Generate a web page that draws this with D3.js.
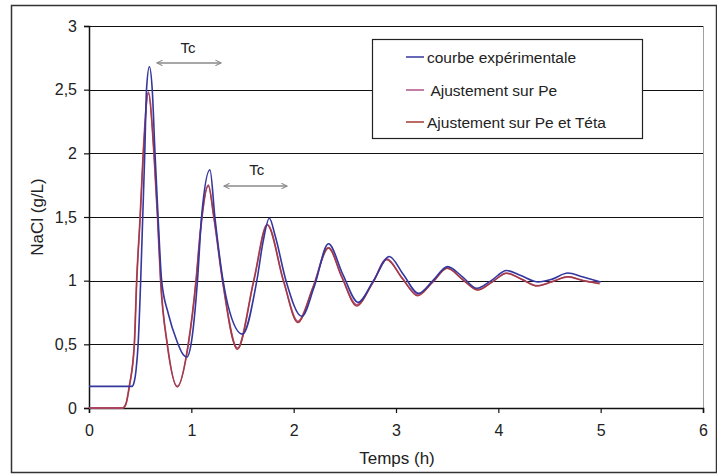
<!DOCTYPE html>
<html>
<head>
<meta charset="utf-8">
<script src="https://cdn.jsdelivr.net/npm/d3@7.9.0/dist/d3.min.js"></script>
<style>
  body { margin: 0; background: #fff; }
  svg { display: block; font-family: "Liberation Sans", Arial, sans-serif; }
</style>
</head>
<body>
<svg id="chart" width="717" height="474"></svg>
<script>
// --- data: [temps (h), NaCl (g/L)] ---
const experimental = [
  [0, 0.17], [0.42, 0.17], [0.44, 0.2], [0.46, 0.3], [0.48, 0.5], [0.505, 1.0],
  [0.525, 1.5], [0.545, 2.0], [0.562, 2.5], [0.59, 2.68], [0.618, 2.5], [0.645, 2.0],
  [0.675, 1.5], [0.71, 1.0], [0.775, 0.74], [0.857, 0.53], [0.92, 0.42], [0.955, 0.4],
  [1.003, 0.53], [1.06, 1.0], [1.10, 1.5], [1.182, 1.87], [1.23, 1.5], [1.31, 1.0],
  [1.36, 0.8], [1.50, 0.58], [1.64, 1.0], [1.70, 1.3], [1.762, 1.49], [1.82, 1.35],
  [1.925, 1.0], [2.08, 0.72], [2.2, 0.95], [2.34, 1.29], [2.48, 1.05], [2.63, 0.83],
  [2.78, 1.0], [2.935, 1.19], [3.07, 1.05], [3.22, 0.9], [3.36, 1.0], [3.505, 1.11],
  [3.65, 1.03], [3.79, 0.94], [3.93, 1.0], [4.08, 1.08], [4.22, 1.04], [4.39, 0.99],
  [4.52, 1.01], [4.68, 1.06], [4.82, 1.03], [5.0, 0.99]
];

const fitPe = [
  [0, 0], [0.33, 0], [0.36, 0.03], [0.394, 0.17], [0.443, 0.5], [0.466, 1.0],
  [0.50, 1.5], [0.53, 2.0], [0.58, 2.48], [0.635, 2.0], [0.67, 1.5], [0.70, 1.0],
  [0.765, 0.5], [0.863, 0.17], [0.97, 0.5], [1.046, 1.0], [1.09, 1.4], [1.166, 1.75],
  [1.22, 1.5], [1.305, 1.0], [1.45, 0.47], [1.61, 1.0], [1.742, 1.44], [1.90, 1.0],
  [2.04, 0.68], [2.19, 0.95], [2.34, 1.26], [2.47, 1.03], [2.615, 0.81], [2.77, 0.98],
  [2.91, 1.17], [3.06, 1.02], [3.21, 0.89], [3.36, 0.99], [3.50, 1.1], [3.65, 1.01],
  [3.80, 0.93], [3.94, 0.99], [4.08, 1.06], [4.23, 1.01], [4.38, 0.96], [4.52, 0.99],
  [4.68, 1.03], [4.83, 1.0], [4.99, 0.98]
];

const fitPeTeta = [
  [0, 0], [0.33, 0], [0.36, 0.03], [0.394, 0.17], [0.443, 0.5], [0.466, 1.0],
  [0.50, 1.5], [0.53, 2.0], [0.58, 2.47], [0.635, 2.0], [0.67, 1.5], [0.70, 1.0],
  [0.765, 0.5], [0.863, 0.165], [0.97, 0.5], [1.046, 1.0], [1.09, 1.4], [1.166, 1.745],
  [1.22, 1.5], [1.305, 1.0], [1.45, 0.46], [1.61, 1.0], [1.742, 1.437], [1.90, 1.0],
  [2.04, 0.67], [2.19, 0.95], [2.34, 1.255], [2.47, 1.03], [2.615, 0.80], [2.77, 0.98],
  [2.91, 1.165], [3.06, 1.02], [3.21, 0.88], [3.36, 0.99], [3.50, 1.097], [3.65, 1.01],
  [3.80, 0.925], [3.94, 0.99], [4.08, 1.058], [4.23, 1.01], [4.38, 0.958], [4.52, 0.99],
  [4.68, 1.031], [4.83, 1.0], [4.99, 0.974]
];

const xTicks = [0, 1, 2, 3, 4, 5, 6];
const yTicks = [0, 0.5, 1, 1.5, 2, 2.5, 3];

const seriesNames = ["courbe expérimentale", " Ajustement sur Pe", "Ajustement sur Pe et Téta"];
const seriesColors = ["#34379e", "#b0508c", "#a33a36"];

// Tc annotations: [t start, t end, level, label t, label level]
const tcArrows = [
  [0.664, 1.29, 2.71, 0.967, 2.83],
  [1.319, 1.935, 1.743, 1.64, 1.87]
];

// --- layout ---
const svg = d3.select("#chart");
const plot = { left: 89, right: 703, top: 26, bottom: 408 };

const x = d3.scaleLinear().domain([0, 6]).range([plot.left, plot.right]);
const y = d3.scaleLinear().domain([0, 3]).range([plot.bottom, plot.top]);

// outer frame
svg.append("rect")
  .attr("x", 11.5).attr("y", 5.5)
  .attr("width", 705).attr("height", 467)
  .attr("fill", "#fff")
  .attr("stroke", "#333").attr("stroke-width", 1.5);

// plot area right edge (gray)
svg.append("line")
  .attr("x1", plot.right + 0.5).attr("x2", plot.right + 0.5)
  .attr("y1", plot.top).attr("y2", plot.bottom)
  .attr("stroke", "#a0a0a0");

// gridlines
svg.append("g")
  .selectAll("line")
  .data(yTicks.filter(d => d > 0))
  .join("line")
  .attr("x1", plot.left).attr("x2", plot.right)
  .attr("y1", d => Math.round(y(d)) + 0.5)
  .attr("y2", d => Math.round(y(d)) + 0.5)
  .attr("stroke", "#111").attr("stroke-width", 1);

// axes
const yAxis = svg.append("g")
  .attr("transform", `translate(${plot.left},0)`)
  .call(d3.axisLeft(y).tickValues(yTicks).tickSize(5).tickPadding(7)
    .tickFormat(d => String(d).replace(".", ",")));
const xAxis = svg.append("g")
  .attr("transform", `translate(0,${plot.bottom})`)
  .call(d3.axisBottom(x).tickValues(xTicks).tickSize(5).tickPadding(12)
    .tickFormat(d => String(d)));

[xAxis, yAxis].forEach(a => {
  a.select(".domain").attr("stroke", "#111").attr("stroke-width", 1.5);
  a.selectAll(".tick line").attr("stroke", "#111").attr("stroke-width", 1.2);
  a.selectAll(".tick text").attr("fill", "#222")
    .style("font-size", "16px").style("font-family", "Liberation Sans, Arial, sans-serif");
});

// axis titles
svg.append("text")
  .attr("x", 397).attr("y", 464)
  .attr("text-anchor", "middle")
  .attr("fill", "#222")
  .style("font-size", "17px")
  .text("Temps (h)");

svg.append("text")
  .attr("transform", "translate(43,217) rotate(-90)")
  .attr("text-anchor", "middle")
  .attr("fill", "#222")
  .style("font-size", "17px")
  .text("NaCl (g/L)");

// curves
const line = d3.line()
  .x(d => x(d[0]))
  .y(d => y(d[1]))
  .curve(d3.curveMonotoneX);

const curves = [experimental, fitPe, fitPeTeta];
const widths = [1.6, 1.8, 1.2];
[1, 2, 0].forEach(i => {
  svg.append("path")
    .datum(curves[i])
    .attr("d", line)
    .attr("fill", "none")
    .attr("stroke", seriesColors[i])
    .attr("stroke-width", widths[i])
    .attr("stroke-linejoin", "round");
});

// Tc arrows
const defs = svg.append("defs");
defs.append("marker")
  .attr("id", "chev")
  .attr("viewBox", "0 0 10 10")
  .attr("refX", 9).attr("refY", 5)
  .attr("markerWidth", 7).attr("markerHeight", 7)
  .attr("markerUnits", "userSpaceOnUse")
  .attr("orient", "auto-start-reverse")
  .append("path")
  .attr("d", "M1,1 L9,5 L1,9")
  .attr("fill", "none")
  .attr("stroke", "#8a8a8a")
  .attr("stroke-width", 1.5);

const ann = svg.append("g");
ann.selectAll("line")
  .data(tcArrows)
  .join("line")
  .attr("x1", d => x(d[0])).attr("x2", d => x(d[1]))
  .attr("y1", d => y(d[2])).attr("y2", d => y(d[2]))
  .attr("stroke", "#8a8a8a").attr("stroke-width", 1.5)
  .attr("marker-start", "url(#chev)")
  .attr("marker-end", "url(#chev)");

ann.selectAll("text")
  .data(tcArrows)
  .join("text")
  .attr("x", d => x(d[3])).attr("y", d => y(d[4]))
  .attr("text-anchor", "middle")
  .attr("dominant-baseline", "central")
  .attr("fill", "#222")
  .style("font-size", "15px")
  .text("Tc");

// legend
const legend = svg.append("g");
legend.append("rect")
  .attr("x", 372.5).attr("y", 39.5)
  .attr("width", 270).attr("height", 99)
  .attr("fill", "#fff")
  .attr("stroke", "#222").attr("stroke-width", 1.2);

const legRows = [57, 90, 122];
seriesNames.forEach((name, i) => {
  legend.append("line")
    .attr("x1", 406).attr("x2", 424)
    .attr("y1", legRows[i]).attr("y2", legRows[i])
    .attr("stroke", seriesColors[i]).attr("stroke-width", 1.5);
  legend.append("text")
    .attr("x", 427).attr("y", legRows[i])
    .attr("dominant-baseline", "central")
    .attr("fill", "#222")
    .style("font-size", "15.5px")
    .style("white-space", "pre")
    .attr("xml:space", "preserve")
    .text(name);
});
</script>
</body>
</html>
